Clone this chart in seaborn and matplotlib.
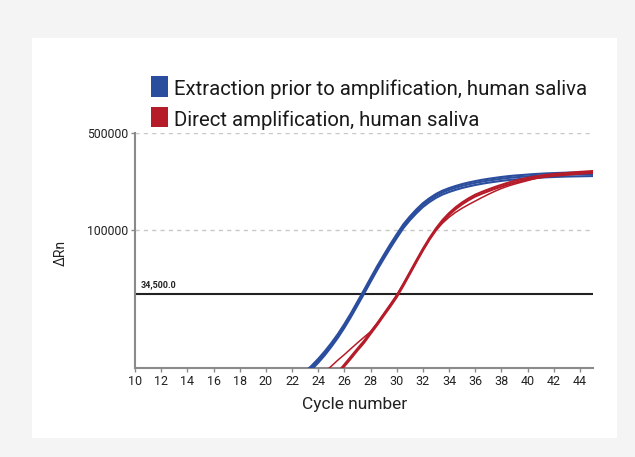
import matplotlib
matplotlib.use("Agg")
import matplotlib.pyplot as plt
from matplotlib.patches import Rectangle
import seaborn as sns
import pandas as pd

# ---- data, ΔRn per half cycle ----
cycles_blue = [c / 2 for c in range(46, 91)]   # 23.0 .. 45.0
blue_rep1 = [9100, 10100, 11300, 12800, 14700, 17100, 20200, 24200, 29300, 35600, 43400, 52800, 63500,
             76000, 90000, 106000, 121000, 136000, 151000, 164000, 176000, 186000, 194000, 201000,
             207500, 213000, 218000, 222500, 226500, 230000, 233500, 236500, 239000, 241000, 243000,
             245000, 246500, 248000, 249000, 250000, 251000, 251500, 252000, 252500, 253000]
blue_rep2 = [8800, 9750, 10900, 12350, 14200, 16500, 19500, 23350, 28300, 34350, 41900, 50950, 61300,
             73300, 86850, 102300, 116800, 131200, 145700, 158300, 169800, 179500, 187200, 194000,
             200200, 205500, 210400, 214700, 218600, 222000, 225300, 228200, 230600, 232600, 234500,
             236400, 237900, 239300, 240300, 241300, 242200, 242700, 243200, 243700, 244100]
blue_rep3 = [9400, 10400, 11650, 13200, 15150, 17600, 20800, 24900, 30200, 36650, 44700, 54400, 65400,
             78300, 92700, 109200, 124600, 140100, 155500, 168900, 181300, 191600, 199800, 207000,
             213700, 219400, 224500, 229200, 233300, 236900, 240500, 243600, 246200, 248200, 250300,
             252400, 253900, 255400, 256500, 257500, 258500, 259000, 259600, 260100, 260600]

cycles_red = [c / 2 for c in range(48, 91)]    # 24.0 .. 45.0
red_rep1 = [6650, 7360, 8230, 9330, 10600, 12100, 13800, 15700, 18200, 21000, 24500, 28600, 33500,
            40400, 49200, 60000, 72800, 87100, 102300, 117500, 131800, 145200, 157400, 168700,
            179100, 187500, 195500, 203500, 211000, 218500, 225500, 231800, 237000, 241800, 246000,
            249500, 252300, 254700, 257000, 259400, 261800, 263600, 265500]
red_rep2 = [6450, 7140, 7980, 9050, 10300, 11700, 13400, 15200, 17650, 20400, 23800, 27700, 32500,
            39200, 47700, 58200, 70600, 84500, 99200, 114000, 127800, 140800, 152700, 163600,
            173700, 181900, 189600, 197400, 204700, 212000, 218700, 224800, 229900, 234500, 238600,
            242000, 244700, 247100, 249300, 251600, 254000, 255700, 257500]
red_rep3 = [8500, 9370, 10300, 11400, 12500, 13800, 15200, 16700, 18300, 21000, 24500, 28600, 33500,
            40400, 49000, 59500, 72000, 85500, 99000, 111500, 123000, 133500, 143000, 152000,
            161000, 170500, 180000, 189500, 198500, 206500, 213500, 220000, 226500, 233000, 239000,
            244000, 247500, 250500, 253000, 255500, 258000, 260000, 262000]

series_names = ["Extraction prior to amplification, human saliva", "Direct amplification, human saliva"]
threshold = 34500
threshold_label = "34,500.0"
x_ticks = list(range(10, 46, 2))
y_ticks = [100000, 500000]
y_tick_labels = ["100000", "500000"]

BLUE = "#2b4d9e"
RED = "#b51b28"

rows = []
for rep, vals in [("b1", blue_rep1), ("b2", blue_rep2), ("b3", blue_rep3)]:
    for c, v in zip(cycles_blue, vals):
        rows.append({"cycle": c, "dRn": v, "sample": series_names[0], "rep": rep})
for rep, vals in [("r1", red_rep1), ("r2", red_rep2)]:
    for c, v in zip(cycles_red, vals):
        rows.append({"cycle": c, "dRn": v, "sample": series_names[1], "rep": rep})
df = pd.DataFrame(rows)
df_thin = pd.DataFrame({"cycle": cycles_red, "dRn": red_rep3, "sample": series_names[1], "rep": "r3"})

sns.set_theme(style="white")
plt.rcParams["font.family"] = ["Roboto", "DejaVu Sans"]

fig = plt.figure(figsize=(6.35, 4.57), dpi=100, facecolor="#f4f4f4")
fig.patches.append(Rectangle((32 / 635, 1 - 438 / 457), 585 / 635, 400 / 457,
                             transform=fig.transFigure, facecolor="white", edgecolor="none", zorder=-5))

ax = fig.add_axes([135 / 635, 1 - 368 / 457, (593 - 135) / 635, (368 - 133) / 457])
ax.set_facecolor("none")

sns.lineplot(data=df, x="cycle", y="dRn", hue="sample", units="rep", estimator=None,
             palette={series_names[0]: BLUE, series_names[1]: RED}, linewidth=1.5,
             legend=False, ax=ax, zorder=3)
sns.lineplot(data=df_thin, x="cycle", y="dRn", color=RED, linewidth=1.1, units="rep",
             estimator=None, legend=False, ax=ax, zorder=3)

ax.set_yscale("log")
ax.set_ylim(10000, 500000)
ax.set_xlim(10, 45)
ax.set_xticks(x_ticks)
ax.set_xticklabels([str(t) for t in x_ticks], fontsize=9, color="#222222")
ax.set_yticks(y_ticks)
ax.set_yticklabels(y_tick_labels, fontsize=8.8, color="#222222")
ax.yaxis.set_minor_locator(matplotlib.ticker.NullLocator())

for yv in y_ticks:
    ax.axhline(yv, color="#c8c8c8", linewidth=1.0, linestyle=(0, (3, 3)), zorder=1)
ax.axhline(threshold, color="#222222", linewidth=1.5, zorder=2)
ax.text(10.4, threshold * 1.07, threshold_label, fontsize=6.5, fontweight="bold",
        color="#222222", va="bottom", ha="left")

for s in ["top", "right"]:
    ax.spines[s].set_visible(False)
for s in ["left", "bottom"]:
    ax.spines[s].set_color("#8a8a8a")
    ax.spines[s].set_linewidth(1.5)
ax.tick_params(axis="both", which="major", length=3, width=1, color="#8a8a8a", pad=2, direction="out",
               bottom=True, left=True)

ax.set_xlabel("Cycle number", fontsize=12.5, color="#222222")
ax.xaxis.set_label_coords(0.48, -0.123)
ax.set_ylabel("ΔRn", fontsize=10, color="#222222")
ax.yaxis.set_label_coords(-0.147, 0.49)

# legend
leg_items = [(series_names[0], BLUE, 76, 95), (series_names[1], RED, 106.5, 125.6)]
for name, col, ytop, base in leg_items:
    fig.patches.append(Rectangle((151 / 635, 1 - (ytop + 20.5) / 457), 17 / 635, 20.5 / 457,
                                 transform=fig.transFigure, facecolor=col, edgecolor="none", zorder=5))
    fig.text(174.5 / 635, 1 - base / 457, name, fontsize=14.7, color="#1a1a1a",
             va="baseline", ha="left")

fig.savefig("out.png", dpi=100, facecolor=fig.get_facecolor())
